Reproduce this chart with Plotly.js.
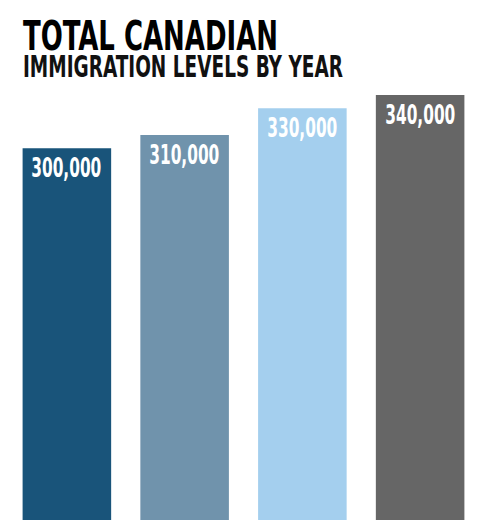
<!DOCTYPE html>
<html>
<head>
<meta charset="utf-8">
<script src="https://cdn.plot.ly/plotly-3.0.1.min.js"></script>
<style>
  html, body { margin: 0; padding: 0; background: #ffffff; }
  #chart { width: 484px; height: 523px; }
</style>
</head>
<body>
<div id="chart"></div>
<script>
// ---- data ----
const years = ['2017', '2018', '2019', '2020'];
const immigrants = [300000, 310000, 330000, 340000];
const valueLabels = ['300,000', '310,000', '330,000', '340,000'];
const titleText = 'TOTAL CANADIAN';
const subtitleText = 'IMMIGRATION LEVELS BY YEAR';

// ---- style ----
const barColors = ['#19547a', '#7093ac', '#a4cfee', '#666666'];
const narrow = '"DejaVu Sans Condensed", "Liberation Sans Narrow", sans-serif';

const trace = {
  type: 'bar',
  x: years,
  y: immigrants,
  marker: { color: barColors, line: { width: 0 } },
  hoverinfo: 'none'
};

// value labels placed through the data scales at the top of each bar
// (x given as the category index on the category axis)
const labelAnnotations = years.map(function (yr, i) {
  return {
    text: valueLabels[i], xref: 'x', yref: 'y',
    x: i, y: immigrants[i], xanchor: 'center', yanchor: 'top',
    yshift: -3, showarrow: false,
    font: { family: narrow, size: 26, color: '#ffffff', weight: 'bold' }
  };
});

const layout = {
  width: 484,
  height: 523,
  margin: { l: 8, r: 5, t: 90, b: 3, pad: 0 },
  paper_bgcolor: '#ffffff',
  plot_bgcolor: '#ffffff',
  showlegend: false,
  bargap: 0.248,
  xaxis: { visible: false, type: 'category', range: [-0.5, years.length - 0.5], autorange: false, fixedrange: true },
  yaxis: { visible: false, range: [21000, 343700], autorange: false, fixedrange: true },
  annotations: [
    {
      text: titleText, xref: 'paper', yref: 'paper',
      x: 0.032, y: 1.1267, xanchor: 'left', yanchor: 'middle',
      showarrow: false,
      font: { family: narrow, size: 40, color: '#000000', weight: 'bold' }
    },
    {
      text: subtitleText, xref: 'paper', yref: 'paper',
      x: 0.032, y: 1.0547, xanchor: 'left', yanchor: 'middle',
      showarrow: false,
      font: { family: narrow, size: 30, color: '#111111', weight: 'bold' }
    }
  ].concat(labelAnnotations)
};

Plotly.newPlot('chart', [trace], layout, { displayModeBar: false, staticPlot: true }).then(function (gd) {
  // condense texts horizontally to match the condensed display face of the original
  const texts = gd.querySelectorAll('.annotation-text');
  texts.forEach(function (el, i) {
    if (i === 0 || i === 1) {
      const t = i === 0 ? { width: 255, left: 23 } : { width: 320, left: 23 };
      el.setAttribute('textLength', t.width);
      el.setAttribute('lengthAdjust', 'spacingAndGlyphs');
      el.setAttribute('text-anchor', 'start');
      const r = el.getBoundingClientRect();
      const x0 = parseFloat(el.getAttribute('x')) || 0;
      el.setAttribute('x', x0 + (t.left - r.left));
    } else {
      const before = el.getBoundingClientRect();
      const cx = before.left + before.width / 2;
      el.setAttribute('textLength', 70);
      el.setAttribute('lengthAdjust', 'spacingAndGlyphs');
      const after = el.getBoundingClientRect();
      const x0 = parseFloat(el.getAttribute('x')) || 0;
      el.setAttribute('x', x0 + (cx - (after.left + after.width / 2)));
    }
  });
});
</script>
</body>
</html>
